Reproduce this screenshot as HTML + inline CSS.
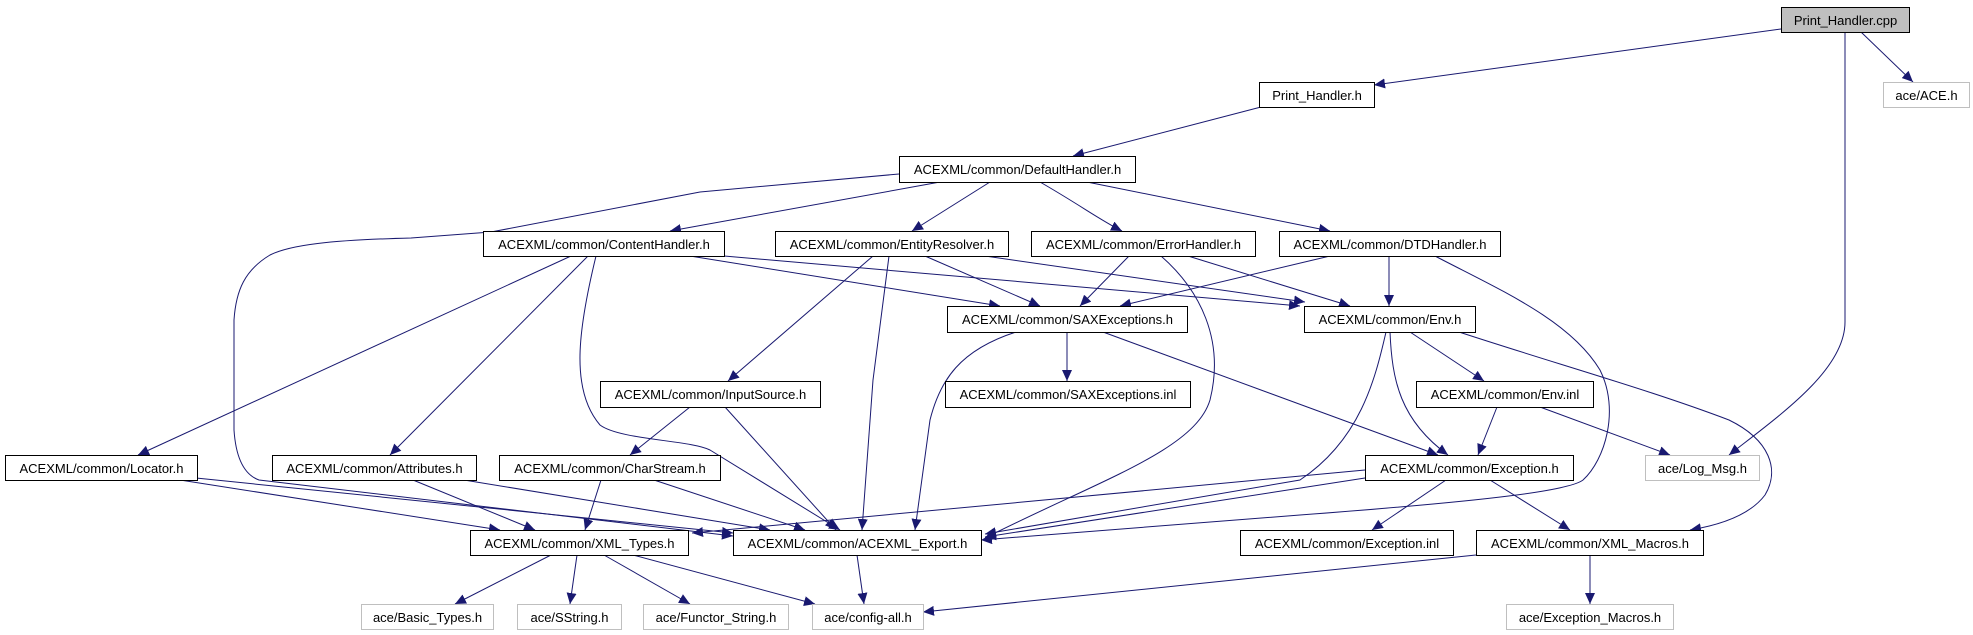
<!DOCTYPE html>
<html><head><meta charset="utf-8"><style>
html,body{margin:0;padding:0;background:#fff;}
svg{display:block;}
text{font-family:"Liberation Sans",sans-serif;font-size:13px;fill:#000;}
.n{fill:#fff;stroke:#000;stroke-width:1;}
.g{fill:#fff;stroke:#bfbfbf;stroke-width:1;}
.e{fill:none;stroke:#191970;stroke-width:1;}
</style></head><body>
<svg width="1973" height="635" viewBox="0 0 1973 635" xmlns="http://www.w3.org/2000/svg">
<defs><marker id="a" markerUnits="userSpaceOnUse" markerWidth="12" markerHeight="10" refX="11" refY="5" orient="auto"><path d="M0,0 L11,5 L0,10 z" fill="#191970"/></marker></defs>
<g marker-end="url(#a)">
<path class="e" d="M1781,29 L1374,85"/>
<path class="e" d="M1861,32 L1913,82"/>
<path class="e" d="M1845,32 L1845,322 C1845,370 1780,415 1729,455"/>
<path class="e" d="M1261,107 L1073,156"/>
<path class="e" d="M940,182 L670,231"/>
<path class="e" d="M990,182 L912,231"/>
<path class="e" d="M1040,182 C1080,205 1100,220 1122,231"/>
<path class="e" d="M1087,182 L1330,231"/>
<path class="e" d="M899,174 L700,192 L491,232 L411,238 C330,240 290,245 270,255 C245,270 236,290 234,320 L234,430 C236,460 245,475 259,480 L733,536"/>
<path class="e" d="M571,256 L138,455"/>
<path class="e" d="M588,256 L390,455"/>
<path class="e" d="M596,256 C578,330 570,390 600,425 C620,440 690,440 710,450 L840,530"/>
<path class="e" d="M690,256 L1000,306"/>
<path class="e" d="M724,256 L1300,306"/>
<path class="e" d="M873,256 L728,381"/>
<path class="e" d="M889,256 L873,380 L862,530"/>
<path class="e" d="M925,256 L1040,306"/>
<path class="e" d="M985,256 L1305,302"/>
<path class="e" d="M1129,256 L1080,306"/>
<path class="e" d="M1188,256 L1350,306"/>
<path class="e" d="M1161,256 C1200,290 1225,340 1210,400 C1195,450 1100,480 985,538"/>
<path class="e" d="M1330,256 L1120,306"/>
<path class="e" d="M1389,256 L1389,306"/>
<path class="e" d="M1435,256 C1500,290 1570,320 1600,370 C1620,410 1605,460 1583,480 C1570,490 1500,500 1300,515 L981,540"/>
<path class="e" d="M1067,332 L1067,381"/>
<path class="e" d="M1016,332 C960,350 940,380 930,420 L915,530"/>
<path class="e" d="M1103,332 L1438,455"/>
<path class="e" d="M1410,332 L1484,381"/>
<path class="e" d="M1390,332 C1392,380 1400,420 1448,455"/>
<path class="e" d="M1386,332 C1375,380 1360,440 1300,480 L985,534"/>
<path class="e" d="M1459,332 C1560,365 1650,390 1729,420 C1770,440 1780,470 1765,495 C1750,515 1720,525 1690,530"/>
<path class="e" d="M1497,407 L1478,455"/>
<path class="e" d="M1540,407 L1670,455"/>
<path class="e" d="M1446,480 L1372,530"/>
<path class="e" d="M1490,480 L1570,530"/>
<path class="e" d="M1365,478 L985,537"/>
<path class="e" d="M1365,470 L692,533"/>
<path class="e" d="M180,480 L500,530"/>
<path class="e" d="M196,478 L733,533"/>
<path class="e" d="M413,480 L535,530"/>
<path class="e" d="M464,480 L770,530"/>
<path class="e" d="M601,480 L585,530"/>
<path class="e" d="M654,480 L805,530"/>
<path class="e" d="M690,407 L630,455"/>
<path class="e" d="M725,407 L836,530"/>
<path class="e" d="M551,555 L455,604"/>
<path class="e" d="M577,555 L570,604"/>
<path class="e" d="M604,555 L690,604"/>
<path class="e" d="M633,555 L815,604"/>
<path class="e" d="M857,555 L864,604"/>
<path class="e" d="M1476,555 L923,612"/>
<path class="e" d="M1590,555 L1590,604"/>
</g>
<g>
<rect x="1781.5" y="7.5" width="128" height="25" fill="#bfbfbf" stroke="#000"/><text x="1845.5" y="25" text-anchor="middle">Print_Handler.cpp</text>
<rect class="g" x="1883.5" y="82.5" width="86" height="25"/><text x="1926.5" y="100" text-anchor="middle">ace/ACE.h</text>
<rect class="n" x="1259.5" y="82.5" width="115" height="25"/><text x="1317" y="100" text-anchor="middle">Print_Handler.h</text>
<rect class="n" x="899.5" y="156.5" width="236" height="26"/><text x="1017.5" y="174" text-anchor="middle">ACEXML/common/DefaultHandler.h</text>
<rect class="n" x="483.5" y="231.5" width="241" height="25"/><text x="604" y="249" text-anchor="middle">ACEXML/common/ContentHandler.h</text>
<rect class="n" x="775.5" y="231.5" width="233" height="25"/><text x="892" y="249" text-anchor="middle">ACEXML/common/EntityResolver.h</text>
<rect class="n" x="1031.5" y="231.5" width="224" height="25"/><text x="1143.5" y="249" text-anchor="middle">ACEXML/common/ErrorHandler.h</text>
<rect class="n" x="1279.5" y="231.5" width="221" height="25"/><text x="1390" y="249" text-anchor="middle">ACEXML/common/DTDHandler.h</text>
<rect class="n" x="947.5" y="306.5" width="240" height="26"/><text x="1067.5" y="324" text-anchor="middle">ACEXML/common/SAXExceptions.h</text>
<rect class="n" x="1304.5" y="306.5" width="171" height="26"/><text x="1390" y="324" text-anchor="middle">ACEXML/common/Env.h</text>
<rect class="n" x="600.5" y="381.5" width="220" height="26"/><text x="710.5" y="399" text-anchor="middle">ACEXML/common/InputSource.h</text>
<rect class="n" x="945.5" y="381.5" width="245" height="26"/><text x="1068" y="399" text-anchor="middle">ACEXML/common/SAXExceptions.inl</text>
<rect class="n" x="1416.5" y="381.5" width="177" height="26"/><text x="1505" y="399" text-anchor="middle">ACEXML/common/Env.inl</text>
<rect class="n" x="5.5" y="455.5" width="192" height="25"/><text x="101.5" y="473" text-anchor="middle">ACEXML/common/Locator.h</text>
<rect class="n" x="272.5" y="455.5" width="204" height="25"/><text x="374.5" y="473" text-anchor="middle">ACEXML/common/Attributes.h</text>
<rect class="n" x="499.5" y="455.5" width="221" height="25"/><text x="610" y="473" text-anchor="middle">ACEXML/common/CharStream.h</text>
<rect class="n" x="1365.5" y="455.5" width="208" height="25"/><text x="1469.5" y="473" text-anchor="middle">ACEXML/common/Exception.h</text>
<rect class="g" x="1645.5" y="455.5" width="114" height="25"/><text x="1702.5" y="473" text-anchor="middle">ace/Log_Msg.h</text>
<rect class="n" x="470.5" y="530.5" width="218" height="25"/><text x="579.5" y="548" text-anchor="middle">ACEXML/common/XML_Types.h</text>
<rect class="n" x="733.5" y="530.5" width="248" height="25"/><text x="857.5" y="548" text-anchor="middle">ACEXML/common/ACEXML_Export.h</text>
<rect class="n" x="1240.5" y="530.5" width="213" height="25"/><text x="1347" y="548" text-anchor="middle">ACEXML/common/Exception.inl</text>
<rect class="n" x="1476.5" y="530.5" width="227" height="25"/><text x="1590" y="548" text-anchor="middle">ACEXML/common/XML_Macros.h</text>
<rect class="g" x="361.5" y="604.5" width="132" height="25"/><text x="427.5" y="622" text-anchor="middle">ace/Basic_Types.h</text>
<rect class="g" x="517.5" y="604.5" width="104" height="25"/><text x="569.5" y="622" text-anchor="middle">ace/SString.h</text>
<rect class="g" x="643.5" y="604.5" width="145" height="25"/><text x="716" y="622" text-anchor="middle">ace/Functor_String.h</text>
<rect class="g" x="812.5" y="604.5" width="111" height="25"/><text x="868" y="622" text-anchor="middle">ace/config-all.h</text>
<rect class="g" x="1506.5" y="604.5" width="167" height="25"/><text x="1590" y="622" text-anchor="middle">ace/Exception_Macros.h</text>
</g>
</svg>
</body></html>
